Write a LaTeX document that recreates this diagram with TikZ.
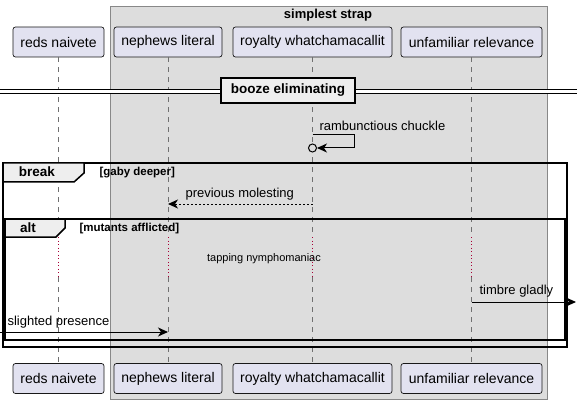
\documentclass[tikz,border=0pt]{standalone}
\usepackage{fontspec}
\setmainfont{Liberation Sans}
\usetikzlibrary{arrows.meta,calc}
\definecolor{partfill}{HTML}{E2E2F0}
\definecolor{partline}{HTML}{181818}
\definecolor{boxfill}{HTML}{DDDDDD}
\definecolor{boxline}{HTML}{888888}
\definecolor{tabfill}{HTML}{EEEEEE}
\definecolor{delayc}{HTML}{A80036}
\definecolor{lifec}{HTML}{707070}

\begin{document}
\begin{tikzpicture}[x=1pt,y=-1pt,
    every node/.style={font=\fontsize{13}{15}\selectfont},
    part/.style={draw=partline,fill=partfill,line width=0.7pt,rounded corners=2.5pt,
      minimum width=#1,minimum height=30pt,inner sep=0pt,font=\fontsize{14}{16}\selectfont},
    life/.style={lifec,line width=0.6pt,dash pattern=on 5pt off 5pt},
    delay/.style={delayc,line width=0.9pt,dash pattern=on 1pt off 2.5pt},
    msg/.style={line width=1pt,-{Stealth[length=10pt,width=9pt,inset=3pt]}},
    frame/.style={line width=1.5pt},
    tab/.style={frame,fill=tabfill},
    tabtxt/.style={font=\fontsize{13.5}{15}\selectfont\bfseries},
    cond/.style={font=\fontsize{11.5}{13}\selectfont\bfseries,anchor=west},
    lbl/.style={anchor=west},
  ]
\useasboundingbox (0,0) rectangle (582,404);

% ---------------- group box ----------------
\draw[boxline,fill=boxfill,line width=0.8pt] (110,6) rectangle (547,399);
\node[font=\fontsize{13}{15}\selectfont\bfseries] (strap) at (328,15.5) {simplest strap};

% ---------------- participants ----------------
\node[part=91pt]  (reds)    at (58.5,42)  {reds naivete};
\node[part=108pt] (nephews) at (168,42)   {nephews literal};
\node[part=159pt] (royalty) at (312.5,42) {royalty whatchamacallit};
\node[part=141pt] (unfam)   at (471.5,42) {unfamiliar relevance};

\node[part=91pt]  (reds-b)    at (58.5,378.5)  {reds naivete};
\node[part=108pt] (nephews-b) at (168,378.5)   {nephews literal};
\node[part=159pt] (royalty-b) at (312.5,378.5) {royalty whatchamacallit};
\node[part=141pt] (unfam-b)   at (471.5,378.5) {unfamiliar relevance};

% lifelines, dotted during the delay
\foreach \p in {reds,nephews,royalty,unfam} {
  \coordinate (\p-d1) at (\p.south |- 0,237);
  \coordinate (\p-d2) at (\p.south |- 0,277);
  \draw[life]  (\p.south) -- (\p-d1);
  \draw[delay] (\p-d1) -- (\p-d2);
  \draw[life]  (\p-d2) -- (\p-b.north);
}

% ---------------- divider ----------------
\coordinate (divL) at (0,92);
\coordinate (divR) at (577,92);
\draw[line width=1pt,double=white,double distance=3pt] (divL) -- (divR);
\node[draw,line width=2pt,fill=tabfill,minimum width=134pt,minimum height=25pt,inner sep=0pt,
  font=\fontsize{13.5}{15}\selectfont\bfseries] (booze) at (288,90.5) {booze eliminating};

% self message
\coordinate (chuckleS) at (royalty.south |- 0,135);
\node[circle,draw,line width=1pt,fill=boxfill,minimum size=8pt,inner sep=0pt] (chuckleE)
  at (royalty.south |- 0,148) {};
\draw[msg] (chuckleS) -- ++(42,0) |- (chuckleE);
\node[lbl] (chuckleL) at (316,126) {rambunctious chuckle};

% ---------------- break ----------------
\draw[frame] (3,163) rectangle (567,347);
\draw[tab] (3,163) -- (84,163) -- (84,173) -- (74,182) -- (3,182) -- cycle;
\node[tabtxt] (brk) at (37,172) {break};
\node[cond] (brkC) at (96,173) {[gaby deeper]};

\coordinate (molS) at (royalty.south |- 0,204);
\coordinate (molE) at (nephews.south |- 0,204);
\draw[msg,dash pattern=on 2pt off 2pt] (molS) -- (molE);
\node[lbl] (molL) at (182,194) {previous molesting};

% ---------------- alt ----------------
\draw[frame] (5,219) rectangle (565,340);
\draw[tab] (5,219) -- (65,219) -- (65,228) -- (56,237) -- (5,237) -- cycle;
\node[tabtxt] (alt) at (28,228) {alt};
\node[cond] (altC) at (76,229) {[mutants afflicted]};

\node[font=\fontsize{11}{13}\selectfont] (tap) at (264,259) {tapping nymphomaniac};

\coordinate (timS) at (unfam.south |- 0,302);
\coordinate (timE) at (576,302);
\draw[msg] (timS) -- (timE);
\node[lbl] (timL) at (476,291) {timbre gladly};

\coordinate (sliS) at (0,332);
\coordinate (sliE) at (nephews.south |- 0,332);
\draw[msg] (sliS) -- (sliE);
\node[lbl] (sliL) at (4,322) {slighted presence};

\end{tikzpicture}
\end{document}
